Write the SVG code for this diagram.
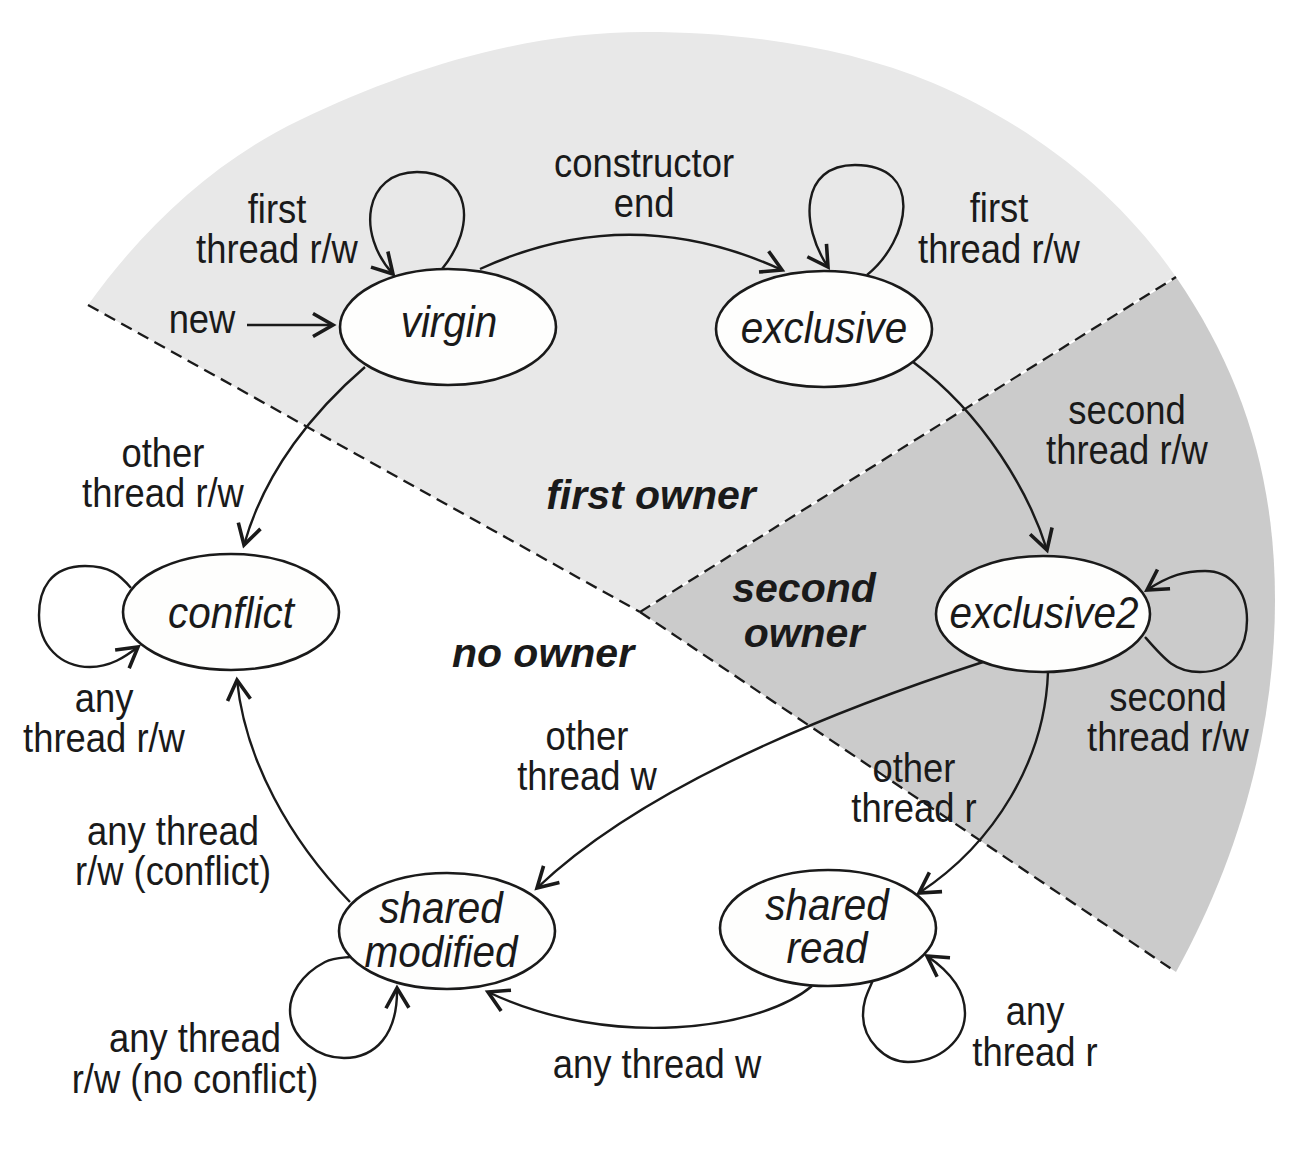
<svg xmlns="http://www.w3.org/2000/svg" width="1290" height="1156" viewBox="0 0 1290 1156">
<style>
.lbl{font-family:"Liberation Sans",Arial,Helvetica,sans-serif;font-size:40px;fill:#1a1a1a;text-anchor:middle}
.st{font-family:"Liberation Sans",Arial,Helvetica,sans-serif;font-style:italic;font-size:44px;fill:#1a1a1a;text-anchor:middle}
.rg{font-family:"Liberation Sans",Arial,Helvetica,sans-serif;font-style:italic;font-weight:bold;font-size:41px;fill:#1a1a1a;text-anchor:middle}
.node ellipse{fill:#fefefd;stroke:#1a1a1a;stroke-width:2.6}
.edge{fill:none;stroke:#1a1a1a;stroke-width:2.4;marker-end:url(#arr)}
.dash{fill:none;stroke:#1a1a1a;stroke-width:2.3;stroke-dasharray:12 7}
</style>
<defs>
<marker id="arr" markerUnits="userSpaceOnUse" markerWidth="40" markerHeight="40" viewBox="-30 -20 40 40" refX="0" refY="0" orient="auto">
<path d="M -20 -11.5 L 0 0 L -20 11.5" fill="none" stroke="#1a1a1a" stroke-width="3.6" stroke-linecap="butt" stroke-linejoin="miter"/>
</marker>
</defs>
<rect width="1290" height="1156" fill="#ffffff"/>
<g id="background">
<path d="M 640 612 L 88 305 C 143 228, 214 161, 300 120 C 408 68, 525 32, 645 32 C 741 32, 845 46, 933 83 C 1029 124, 1117 191, 1176 277 Z" fill="#e8e8e8"/>
<path d="M 640 612 L 1176 277 C 1244 376, 1275 480, 1275 600 C 1275 730, 1239 858, 1176 972 Z" fill="#cbcbcb"/>
<line x1="640" y1="612" x2="1176" y2="277" stroke="#ffffff" stroke-width="2"/>
<line class="dash" x1="88" y1="305" x2="640" y2="612"/>
<line class="dash" x1="640" y1="612" x2="1176" y2="277"/>
<line class="dash" x1="640" y1="612" x2="1176" y2="972"/>
</g>
<g id="regions">
<text class="rg" x="651" y="509">first owner</text>
<text class="rg"><tspan x="804" y="602">second</tspan><tspan x="804" y="647">owner</tspan></text>
<text class="rg" x="543" y="667">no owner</text>
</g>
<g id="connectors">
<path class="edge" d="M 247 325 L 333 325"/>
<path class="edge" d="M 442 269 C 478 225, 470 172, 417 172 C 364 172, 356 234, 393 274"/>
<path class="edge" d="M 480 269 Q 630 200 782 270"/>
<path class="edge" d="M 867 275 C 910 240, 925 165, 855 165 C 800 165, 800 225, 828 267"/>
<path class="edge" d="M 913 362 C 985 415, 1030 495, 1047 550"/>
<path class="edge" d="M 1145 637 C 1165 660, 1175 672, 1200 672 C 1235 672, 1247 645, 1247 620 C 1247 590, 1230 571, 1205 571 C 1185 571, 1170 575, 1147 590"/>
<path class="edge" d="M 1048 672 C 1045 760, 995 843, 919 893"/>
<path class="edge" d="M 983 662 C 820 715, 640 790, 537 888"/>
<path class="edge" d="M 365 367 C 315 410, 265 470, 244 545"/>
<path class="edge" d="M 131 588 C 120 575, 110 566, 85 566 C 50 566, 39 590, 39 615 C 39 645, 60 667, 90 667 C 110 667, 125 657, 138 647"/>
<path class="edge" d="M 350 902 C 290 840, 245 760, 237 680"/>
<path class="edge" d="M 350 957 C 340 958, 333 958, 325 962 C 300 975, 290 995, 290 1010 C 290 1040, 320 1058, 344 1058 C 375 1058, 398 1035, 397 988"/>
<path class="edge" d="M 812 986 C 760 1030, 610 1050, 488 992"/>
<path class="edge" d="M 873 980 C 868 992, 863 1000, 863 1015 C 863 1040, 885 1062, 908 1062 C 940 1062, 965 1040, 965 1013 C 965 995, 955 975, 927 956"/>
</g>
<g id="edge-labels">
<text class="lbl" transform="translate(202 0) scale(0.91 1)"><tspan x="0" y="333">new</tspan></text>
<text class="lbl" transform="translate(277 0) scale(0.91 1)"><tspan x="0" y="223">first</tspan><tspan x="0" y="263">thread r/w</tspan></text>
<text class="lbl" transform="translate(644 0) scale(0.91 1)"><tspan x="0" y="177">constructor</tspan><tspan x="0" y="217">end</tspan></text>
<text class="lbl" transform="translate(999 0) scale(0.91 1)"><tspan x="0" y="222">first</tspan><tspan x="0" y="263">thread r/w</tspan></text>
<text class="lbl" transform="translate(1127 0) scale(0.91 1)"><tspan x="0" y="424">second</tspan><tspan x="0" y="464">thread r/w</tspan></text>
<text class="lbl" transform="translate(163 0) scale(0.91 1)"><tspan x="0" y="467">other</tspan><tspan x="0" y="507">thread r/w</tspan></text>
<text class="lbl" transform="translate(1168 0) scale(0.91 1)"><tspan x="0" y="711">second</tspan><tspan x="0" y="751">thread r/w</tspan></text>
<text class="lbl" transform="translate(104 0) scale(0.91 1)"><tspan x="0" y="712">any</tspan><tspan x="0" y="752">thread r/w</tspan></text>
<text class="lbl" transform="translate(587 0) scale(0.91 1)"><tspan x="0" y="750">other</tspan><tspan x="0" y="790">thread w</tspan></text>
<text class="lbl" transform="translate(914 0) scale(0.91 1)"><tspan x="0" y="782">other</tspan><tspan x="0" y="822">thread r</tspan></text>
<text class="lbl" transform="translate(173 0) scale(0.91 1)"><tspan x="0" y="845">any thread</tspan><tspan x="0" y="885">r/w (conflict)</tspan></text>
<text class="lbl" transform="translate(195 0) scale(0.91 1)"><tspan x="0" y="1052">any thread</tspan><tspan x="0" y="1093">r/w (no conflict)</tspan></text>
<text class="lbl" transform="translate(657 0) scale(0.91 1)"><tspan x="0" y="1078">any thread w</tspan></text>
<text class="lbl" transform="translate(1035 0) scale(0.91 1)"><tspan x="0" y="1025">any</tspan><tspan x="0" y="1066">thread r</tspan></text>
</g>
<g id="virgin" class="node">
<ellipse cx="448" cy="327" rx="108" ry="58"/>
<text class="st" transform="translate(449 0) scale(0.92 1)"><tspan x="0" y="337">virgin</tspan></text>
</g>
<g id="exclusive" class="node">
<ellipse cx="824" cy="329" rx="108" ry="58"/>
<text class="st" transform="translate(824 0) scale(0.92 1)"><tspan x="0" y="343">exclusive</tspan></text>
</g>
<g id="conflict" class="node">
<ellipse cx="231" cy="612" rx="108" ry="58"/>
<text class="st" transform="translate(231 0) scale(0.92 1)"><tspan x="0" y="628">conflict</tspan></text>
</g>
<g id="exclusive2" class="node">
<ellipse cx="1043" cy="614" rx="107" ry="58"/>
<text class="st" transform="translate(1044 0) scale(0.92 1)"><tspan x="0" y="628">exclusive2</tspan></text>
</g>
<g id="shared-modified" class="node">
<ellipse cx="447" cy="931" rx="108" ry="58"/>
<text class="st" transform="translate(441 0) scale(0.92 1)"><tspan x="0" y="923">shared</tspan><tspan x="0" y="967">modified</tspan></text>
</g>
<g id="shared-read" class="node">
<ellipse cx="828" cy="928" rx="108" ry="58"/>
<text class="st" transform="translate(827 0) scale(0.92 1)"><tspan x="0" y="920">shared</tspan><tspan x="0" y="963">read</tspan></text>
</g>
</svg>
